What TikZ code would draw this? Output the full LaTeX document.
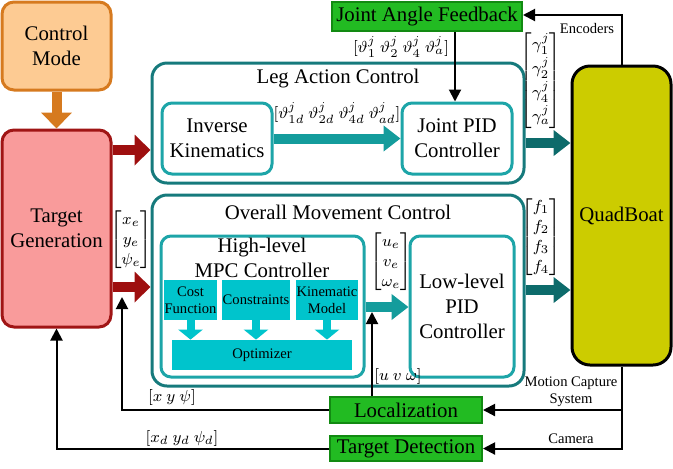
\documentclass[tikz,border=0pt]{standalone}
\usepackage{amsmath}
\usepackage{fontspec}
\setmainfont{Liberation Serif}
\usetikzlibrary{arrows.meta,positioning}

\definecolor{modefill}{HTML}{FDCB93}
\definecolor{modeline}{HTML}{D67A1F}
\definecolor{genfill}{HTML}{F99B9B}
\definecolor{genline}{HTML}{A01515}
\definecolor{genarrow}{HTML}{9E0F0F}
\definecolor{tealdark}{HTML}{167A7C}
\definecolor{teallight}{HTML}{1DA5A8}
\definecolor{tealarrow}{HTML}{149C9C}
\definecolor{tealdeep}{HTML}{0D6B6B}
\definecolor{cyanfill}{HTML}{00C4CC}
\definecolor{greenfill}{HTML}{22BB22}
\definecolor{greenline}{HTML}{128A12}
\definecolor{boatfill}{HTML}{CCCC00}

\begin{document}
\begin{tikzpicture}[x=0.5pt,y=-0.5pt,
  bigfont/.style={font=\fontsize{10.4}{12.5}\selectfont},
  smallfont/.style={font=\fontsize{7.3}{8.6}\selectfont},
  mathfont/.style={font=\fontsize{8}{10}\selectfont},
  outerbox/.style={draw=tealdark,line width=1.5pt,rounded corners=7.5pt,inner sep=0pt},
  innerbox/.style={draw=teallight,line width=1.5pt,rounded corners=5pt,fill=white,
    align=center,bigfont,inner sep=0pt},
  cyanbox/.style={fill=cyanfill,align=center,smallfont,inner sep=0pt},
  greenbox/.style={fill=greenfill,draw=greenline,line width=1pt,bigfont,inner sep=0pt},
  fatarrow/.style={line width=5pt,-{Triangle[width=15pt,length=8pt]}},
  midarrow/.style={line width=5pt,-{Triangle[width=12.5pt,length=8.5pt]}},
  cyanarrow/.style={cyanfill,line width=4pt,-{Triangle[width=12pt,length=5pt]}},
  thinarrow/.style={line width=1pt,-{Triangle[width=6pt,length=6pt]}},
]
\useasboundingbox (0,0) rectangle (673,468);
% blocks
\node[draw=modeline,fill=modefill,line width=1.5pt,rounded corners=6pt,
      minimum width=54.5pt,minimum height=44pt,align=center,bigfont]
      (mode) at (56.5,46) {Control\\Mode};
\node[draw=genline,fill=genfill,line width=1.5pt,rounded corners=6pt,
      minimum width=54.5pt,minimum height=98.5pt,align=center,bigfont]
      (gen) at (56.5,228.5) {Target\\Generation};
\node[outerbox,minimum width=186pt,minimum height=60pt] (leg) at (338,123) {};
\node[bigfont] (legtitle) at (338,79) {Leg Action Control};
\node[innerbox,minimum width=55pt,minimum height=35.5pt] (ik) at (217,138.5) {Inverse\\Kinematics};
\node[innerbox,minimum width=55pt,minimum height=35.5pt] (jpid) at (457,138.5) {Joint PID\\Controller};
\node[greenbox,minimum width=95pt,minimum height=14.5pt] (jaf) at (427,16.5) {Joint Angle Feedback};
\node[draw,fill=boatfill,line width=1.5pt,rounded corners=9pt,
      minimum width=49.5pt,minimum height=149.5pt,bigfont] (boat) at (621.5,215.5) {QuadBoat};
\node[outerbox,minimum width=186pt,minimum height=95.5pt] (move) at (338,290.5) {};
\node[bigfont] (movetitle) at (338,212) {Overall Movement Control};
\node[innerbox,minimum width=101.5pt,minimum height=70.5pt] (mpc) at (262.5,306.5) {};
\node[bigfont,align=center] (mpctitle) at (262,258) {High-level\\MPC Controller};
\node[cyanbox,minimum width=26.5pt,minimum height=20pt] (cost) at (190.5,300) {Cost\\Function};
\node[cyanbox,minimum width=34pt,minimum height=20pt] (cons) at (256,300) {Constraints};
\node[cyanbox,minimum width=31pt,minimum height=20pt] (kin) at (327,300) {Kinematic\\Model};
\node[cyanbox,minimum width=90pt,minimum height=15pt] (opt) at (262,355) {Optimizer};
\node[innerbox,minimum width=52pt,minimum height=70.5pt] (llpid) at (462,306.5) {Low-level\\PID\\Controller};
\node[greenbox,minimum width=76pt,minimum height=13pt] (loc) at (406,410) {Localization};
\node[greenbox,minimum width=76pt,minimum height=12.5pt] (tdet) at (406,448.5) {Target Detection};
% fat arrows
\draw[fatarrow,modeline] (mode.south) -- (gen.north);
\draw[fatarrow,genarrow] (gen.east |- 0,150) -- (leg.west |- 0,150);
\draw[fatarrow,genarrow] (gen.east |- 0,287) -- (move.west |- 0,287);
\draw[midarrow,tealarrow] (ik.east) -- (jpid.west);
\draw[midarrow,tealdeep] (leg.east |- 0,143) -- (boat.west |- 0,143);
\draw[midarrow,tealarrow] (mpc.east |- 0,307) -- (llpid.west |- 0,307);
\draw[midarrow,tealdeep] (move.east |- 0,290) -- (boat.west |- 0,290);
\foreach \b in {cost,cons,kin}
  \draw[cyanarrow] (\b.south) -- (\b.south |- opt.north);
% feedback lines
\coordinate (enctop) at (622,15);
\draw[thinarrow] (jaf.south -| 455,0) -- (jpid.north -| 455,0);
\draw[thinarrow] (boat.north -| enctop) -- (enctop) -- (jaf.east |- enctop);
\draw[thinarrow] (boat.south -| enctop) |- (tdet.east);
\draw[thinarrow] (enctop |- loc.east) -- (loc.east);
\draw[thinarrow] (loc.west) -| (122,297);
\draw[thinarrow] (loc.north -| 372,0) -- (372,312);
\draw[thinarrow] (tdet.west) -| (gen.south);
% labels
\node[mathfont] (thetafb) at (401,47) {$[\vartheta^j_1\ \vartheta^j_2\ \vartheta^j_4\ \vartheta^j_a]$};
\node[mathfont] (thetad) at (337,113) {$[\vartheta^j_{1d}\ \vartheta^j_{2d}\ \vartheta^j_{4d}\ \vartheta^j_{ad}]$};
\node[mathfont,inner sep=0pt] (gamma) at (541,81)
  {$\renewcommand{\arraystretch}{1.2}\begin{bmatrix}\gamma^j_1\\\gamma^j_2\\\gamma^j_4\\\gamma^j_a\end{bmatrix}$};
\node[smallfont] (enc) at (587,28) {Encoders};
\node[mathfont,inner sep=0pt] (force) at (541,237)
  {$\begin{bmatrix}f_1\\f_2\\f_3\\f_4\end{bmatrix}$};
\node[mathfont,inner sep=0pt] (err) at (131,240)
  {$\begin{bmatrix}x_e\\y_e\\\psi_e\end{bmatrix}$};
\node[mathfont,inner sep=0pt] (velerr) at (391,262)
  {$\begin{bmatrix}u_e\\v_e\\\omega_e\end{bmatrix}$};
\node[mathfont] (vel) at (398,376) {$[u\ v\ \omega]$};
\node[mathfont] (pose) at (172,397) {$[x\ y\ \psi]$};
\node[mathfont] (posed) at (182,438) {$[x_d\ y_d\ \psi_d]$};
\node[smallfont,align=center] (mocap) at (571,392) {Motion Capture\\System};
\node[smallfont] (cam) at (571,439) {Camera};
\end{tikzpicture}
\end{document}
